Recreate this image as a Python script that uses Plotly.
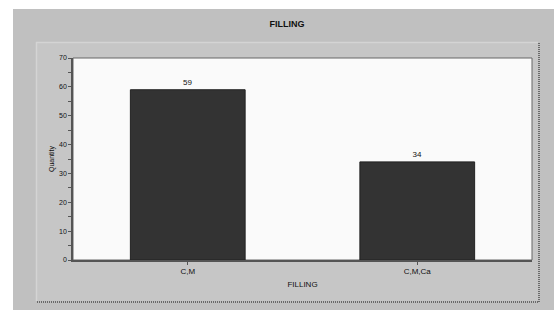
import plotly.graph_objects as go

categories = ["C,M", "C,M,Ca"]
quantities = [59, 34]
y_ticks = [0, 10, 20, 30, 40, 50, 60, 70]

W, H = 554, 310
L, R, T, B = 73, 532, 58, 260

def px(x):
    return (x - L) / (R - L)

def py(y):
    return (B - y) / (B - T)

fig = go.Figure(go.Bar(
    x=categories, y=quantities, width=0.5,
    marker=dict(color="#333333", line=dict(color="#222222", width=1)),
    text=[str(v) for v in quantities], textposition="outside",
    textfont=dict(size=8, color="#111111"), cliponaxis=False,
))

dot = dict(color="#6a6a6a", width=2, dash="1px,1px")
shapes = [
    dict(type="rect", xref="paper", yref="paper", x0=px(13), x1=px(555), y0=py(311), y1=py(9),
         fillcolor="#c0c0c0", line=dict(width=0), layer="below"),
    dict(type="rect", xref="paper", yref="paper", x0=px(36), x1=px(538), y0=py(301), y1=py(42),
         fillcolor="#c6c6c6", line=dict(width=0), layer="below"),
    dict(type="line", xref="paper", yref="paper", x0=px(36), x1=px(538), y0=py(42.5), y1=py(42.5),
         line=dict(color="#d4d4d4", width=1.5), layer="below"),
    dict(type="line", xref="paper", yref="paper", x0=px(36.5), x1=px(36.5), y0=py(42), y1=py(301),
         line=dict(color="#d4d4d4", width=1.5), layer="below"),
    dict(type="line", xref="paper", yref="paper", x0=px(539), x1=px(539), y0=py(43), y1=py(302),
         line=dot, layer="below"),
    dict(type="line", xref="paper", yref="paper", x0=px(37), x1=px(539), y0=py(302), y1=py(302),
         line=dot, layer="below"),
    dict(type="rect", xref="paper", yref="paper", x0=0, x1=1, y0=0, y1=1,
         fillcolor="#fafafa", line=dict(color="#666666", width=1), layer="below"),
]

fig.update_layout(
    width=W, height=H,
    margin=dict(l=L, r=W - R, t=T, b=H - B),
    paper_bgcolor="#ffffff", plot_bgcolor="rgba(0,0,0,0)",
    font=dict(family="Arial, Liberation Sans, sans-serif", size=8, color="#111111"),
    title=dict(text="<b>FILLING</b>", x=287 / W, xanchor="center", y=1 - 24 / H, yanchor="middle",
               font=dict(size=9, color="#111111")),
    shapes=shapes,
    showlegend=False,
    bargap=0.5,
)
fig.update_xaxes(
    range=[-0.5, 1.5], showgrid=False, zeroline=False,
    showline=True, linecolor="#555555", linewidth=1.5,
    ticks="outside", ticklen=3, tickcolor="#555555",
    tickfont=dict(size=8, color="#111111"),
    title=dict(text="FILLING", font=dict(size=8, color="#111111"), standoff=6),
)
fig.update_yaxes(
    range=[0, 70], tickvals=y_ticks, showgrid=False, zeroline=False,
    showline=True, linecolor="#555555", linewidth=1.5,
    ticks="outside", ticklen=3, tickcolor="#555555",
    minor=dict(dtick=5, ticks="outside", ticklen=3, tickcolor="#555555"),
    tickfont=dict(size=7, color="#111111"),
    title=dict(text="Quantity", font=dict(size=7, color="#111111"), standoff=4),
)

fig.write_html("out.html", config={"displayModeBar": False},
               post_script="document.body.style.margin='0';document.body.style.overflow='hidden';")
